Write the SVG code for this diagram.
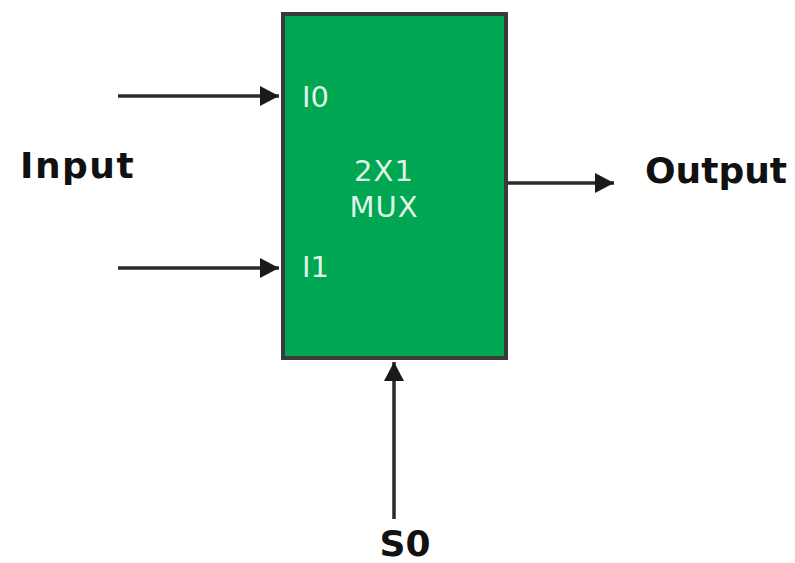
<svg xmlns="http://www.w3.org/2000/svg" width="795" height="563" viewBox="0 0 795 563">
<style>
.lbl{font-family:"DejaVu Sans","Noto Sans",sans-serif;font-weight:bold;fill:#111;font-size:36px;}
.in{font-family:"DejaVu Sans","Noto Sans",sans-serif;fill:#dff5e6;font-size:29px;}
.wire{stroke:#2a2a2a;stroke-width:3.5;fill:none;marker-end:url(#ah);}
</style>
<defs>
<marker id="ah" markerWidth="22" markerHeight="22" refX="20" refY="11" orient="auto" markerUnits="userSpaceOnUse" viewBox="0 0 22 22">
<path d="M1,1 L20,11 L1,21 Z" fill="#1a1a1a"/>
</marker>
</defs>
<rect width="795" height="563" fill="#fff"/>
<g id="mux">
<rect x="283" y="14" width="223" height="344" fill="#00a651" stroke="#3a3a3a" stroke-width="4"/>
<text class="in" x="302" y="107">I0</text>
<text class="in" x="302" y="277">I1</text>
<text class="in" x="384" y="181" text-anchor="middle" letter-spacing="1">2X1</text>
<text class="in" x="384" y="217" text-anchor="middle" letter-spacing="1">MUX</text>
</g>
<g id="input"><text class="lbl" x="20" y="178" letter-spacing="1.5">Input</text></g>
<g id="output"><text class="lbl" x="645" y="183">Output</text></g>
<g id="s0"><text class="lbl" x="405" y="556" text-anchor="middle">S0</text></g>
<g id="connectors">
<line class="wire" x1="118" y1="96" x2="279" y2="96"/>
<line class="wire" x1="118" y1="268" x2="279" y2="268"/>
<line class="wire" x1="508" y1="183" x2="614" y2="183"/>
<line class="wire" x1="394" y1="519" x2="394" y2="362"/>
</g>
</svg>
